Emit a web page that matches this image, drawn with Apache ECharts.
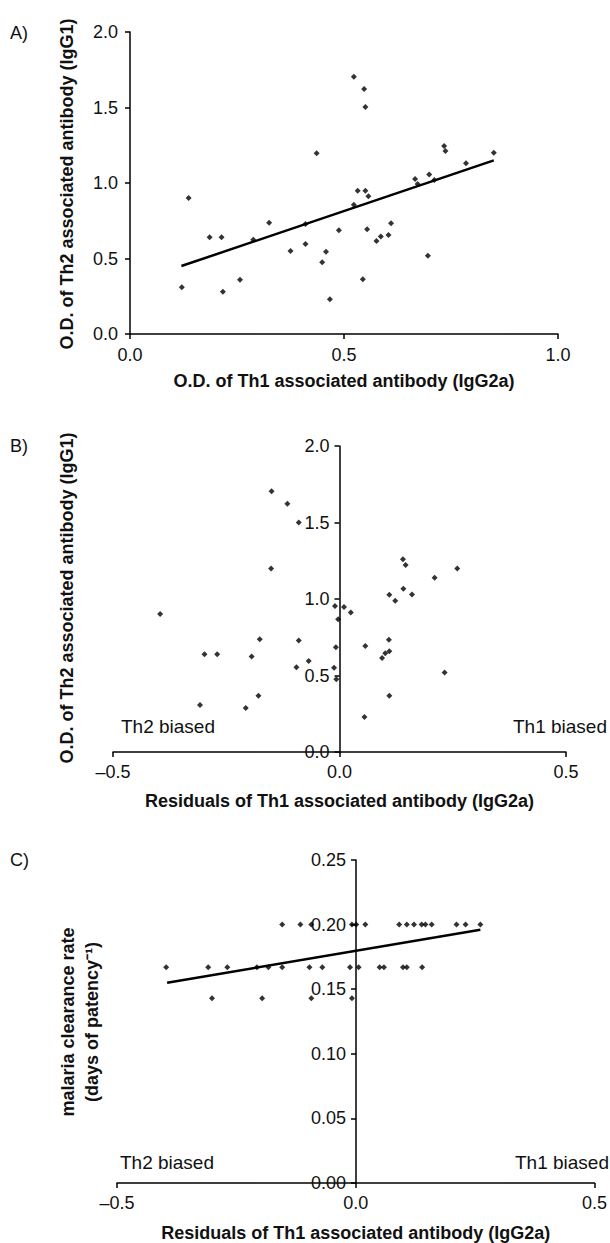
<!DOCTYPE html>
<html>
<head>
<meta charset="utf-8">
<script src="https://cdn.jsdelivr.net/npm/echarts@6/dist/echarts.min.js"></script>
<style>
  html, body { margin: 0; padding: 0; background: #fff; }
  #chart { width: 610px; height: 1243px; }
</style>
</head>
<body>
<div id="chart"></div>
<script>
// panel A: raw O.D. values
const igg2aA = [0.121, 0.137, 0.186, 0.214, 0.217, 0.257, 0.288, 0.325, 0.375, 0.410, 0.410, 0.436, 0.449, 0.458, 0.467, 0.488, 0.523, 0.523, 0.532, 0.544, 0.547, 0.550, 0.550, 0.557, 0.554, 0.576, 0.586, 0.604, 0.610, 0.666, 0.672, 0.696, 0.699, 0.711, 0.734, 0.737, 0.785, 0.850];
const igg1A = [0.31, 0.90, 0.64, 0.64, 0.28, 0.36, 0.625, 0.737, 0.55, 0.728, 0.596, 1.197, 0.475, 0.545, 0.23, 0.687, 1.704, 0.856, 0.949, 0.362, 1.623, 0.949, 1.503, 0.912, 0.693, 0.616, 0.645, 0.656, 0.733, 1.026, 0.993, 0.519, 1.057, 1.02, 1.245, 1.212, 1.13, 1.201];
const fitA = [[0.12, 0.45], [0.85, 1.15]];

// panel B: residuals vs IgG1
const residB = [-0.396, -0.308, -0.298, -0.270, -0.207, -0.194, -0.179, -0.176, -0.151, -0.150, -0.115, -0.095, -0.090, -0.090, -0.068, -0.012, -0.010, -0.008, -0.007, -0.003, 0.010, 0.025, 0.055, 0.057, 0.094, 0.101, 0.109, 0.110, 0.110, 0.110, 0.123, 0.140, 0.146, 0.141, 0.160, 0.210, 0.232, 0.260];
const igg1B = [0.902, 0.307, 0.639, 0.639, 0.287, 0.624, 0.367, 0.737, 1.200, 1.704, 1.622, 0.554, 0.728, 1.500, 0.595, 0.550, 0.954, 0.685, 0.476, 0.867, 0.948, 0.911, 0.228, 0.693, 0.615, 0.646, 0.733, 0.659, 1.028, 0.367, 0.989, 1.259, 1.222, 1.067, 1.030, 1.139, 0.519, 1.200];

// panel C: residuals vs clearance rate
const residC = [-0.154, -0.116, -0.093, -0.008, 0.001, 0.020, 0.091, 0.107, 0.122, 0.138, 0.146, 0.159, 0.211, 0.230, 0.261,
  -0.397, -0.309, -0.269, -0.207, -0.183, -0.154, -0.097, -0.070, -0.012, 0.006, 0.050, 0.059, 0.099, 0.107, 0.139,
  -0.301, -0.196, -0.093, -0.008];
const clearC = [0.200, 0.200, 0.200, 0.200, 0.200, 0.200, 0.200, 0.200, 0.200, 0.200, 0.200, 0.200, 0.200, 0.200, 0.200,
  0.167, 0.167, 0.167, 0.167, 0.167, 0.167, 0.167, 0.167, 0.167, 0.167, 0.167, 0.167, 0.167, 0.167, 0.167,
  0.143, 0.143, 0.143, 0.143];
const fitC = [[-0.395, 0.155], [0.261, 0.196]];

const FONT = 'Liberation Sans, Arial, Helvetica, sans-serif';
const pairs = (xs, ys) => xs.map((x, i) => [x, ys[i]]);
const fmt1 = v => (v < 0 ? '\u2013' : '') + Math.abs(v).toFixed(1);
const fmt2 = v => v.toFixed(2);

const line = { onZero: false, lineStyle: { color: '#000', width: 1.5 } };
const label = (f, m) => ({ color: '#111', fontSize: 18, fontFamily: FONT, margin: m, formatter: f });
const tick = { length: 5, lineStyle: { color: '#000', width: 1.5 } };
const xName = (txt, gap) => ({
  name: txt, nameLocation: 'middle', nameGap: gap,
  nameTextStyle: { color: '#111', fontSize: 18, fontWeight: 'bold', fontFamily: FONT }
});

const myChart = echarts.init(document.getElementById('chart'), null, { renderer: 'svg' });
myChart.setOption({
  animation: false,
  grid: [
    { left: 130, top: 32, width: 428, height: 302 },
    { left: 113, top: 446, width: 453, height: 306 },
    { left: 117, top: 860, width: 478, height: 325 }
  ],
  xAxis: [
    Object.assign({ gridIndex: 0, type: 'value', min: 0, max: 1, interval: 0.5, splitLine: { show: false },
      axisLine: line, axisTick: tick, axisLabel: label(fmt1, 12) }, xName('O.D. of Th1 associated antibody (IgG2a)', 38)),
    Object.assign({ gridIndex: 1, type: 'value', min: -0.5, max: 0.5, interval: 0.5, splitLine: { show: false },
      axisLine: line, axisTick: tick, axisLabel: label(fmt1, 11) }, xName('Residuals of Th1 associated antibody (IgG2a)', 40)),
    Object.assign({ gridIndex: 2, type: 'value', min: -0.5, max: 0.5, interval: 0.5, splitLine: { show: false },
      axisLine: line, axisTick: tick, axisLabel: label(fmt1, 11) }, xName('Residuals of Th1 associated antibody (IgG2a)', 41))
  ],
  // B and C: y axis sits on x = 0, shifted in by half the grid width
  yAxis: [
    { gridIndex: 0, type: 'value', min: 0, max: 2, interval: 0.5, splitLine: { show: false },
      axisLine: line, axisTick: tick, axisLabel: label(fmt1, 12) },
    { gridIndex: 1, type: 'value', min: 0, max: 2, interval: 0.5, offset: -226.5, splitLine: { show: false },
      axisLine: line, axisTick: tick, axisLabel: label(fmt1, 10) },
    { gridIndex: 2, type: 'value', min: 0, max: 0.25, interval: 0.05, offset: -239, splitLine: { show: false },
      axisLine: line, axisTick: tick, axisLabel: label(fmt2, 10) }
  ],
  series: [
    { type: 'scatter', xAxisIndex: 0, yAxisIndex: 0, symbol: 'diamond', symbolSize: 6,
      itemStyle: { color: '#000' }, data: pairs(igg2aA, igg1A) },
    { type: 'line', xAxisIndex: 0, yAxisIndex: 0, symbol: 'none', lineStyle: { color: '#000', width: 2.5 }, data: fitA },
    { type: 'scatter', xAxisIndex: 1, yAxisIndex: 1, symbol: 'diamond', symbolSize: 6,
      itemStyle: { color: '#000' }, data: pairs(residB, igg1B) },
    { type: 'scatter', xAxisIndex: 2, yAxisIndex: 2, symbol: 'diamond', symbolSize: 6,
      itemStyle: { color: '#000' }, data: pairs(residC, clearC) },
    { type: 'line', xAxisIndex: 2, yAxisIndex: 2, symbol: 'none', lineStyle: { color: '#000', width: 2.5 }, data: fitC }
  ],
  graphic: [
    { type: 'text', left: 10, top: 24, style: { text: 'A)', font: '18px ' + FONT, fill: '#111' } },
    { type: 'text', left: 10, top: 437, style: { text: 'B)', font: '18px ' + FONT, fill: '#111' } },
    { type: 'text', left: 10, top: 851, style: { text: 'C)', font: '18px ' + FONT, fill: '#111' } },
    { type: 'text', x: 67, y: 184, rotation: Math.PI / 2,
      style: { text: 'O.D. of Th2 associated antibody (IgG1)', font: 'bold 18px ' + FONT, fill: '#111', align: 'center', verticalAlign: 'middle' } },
    { type: 'text', x: 67, y: 598, rotation: Math.PI / 2,
      style: { text: 'O.D. of Th2 associated antibody (IgG1)', font: 'bold 18px ' + FONT, fill: '#111', align: 'center', verticalAlign: 'middle' } },
    { type: 'text', x: 80, y: 1022, rotation: Math.PI / 2,
      style: { text: 'malaria clearance rate\n(days of patency\u207B\u00B9)', font: 'bold 18px ' + FONT, lineHeight: 24, fill: '#111', align: 'center', verticalAlign: 'middle' } },
    { type: 'text', x: 121, y: 726, style: { text: 'Th2 biased', font: '19px ' + FONT, fill: '#111', verticalAlign: 'middle' } },
    { type: 'text', x: 607, y: 726, style: { text: 'Th1 biased', font: '19px ' + FONT, fill: '#111', align: 'right', verticalAlign: 'middle' } },
    { type: 'text', x: 120, y: 1162, style: { text: 'Th2 biased', font: '19px ' + FONT, fill: '#111', verticalAlign: 'middle' } },
    { type: 'text', x: 609, y: 1162, style: { text: 'Th1 biased', font: '19px ' + FONT, fill: '#111', align: 'right', verticalAlign: 'middle' } }
  ]
});
</script>
</body>
</html>
